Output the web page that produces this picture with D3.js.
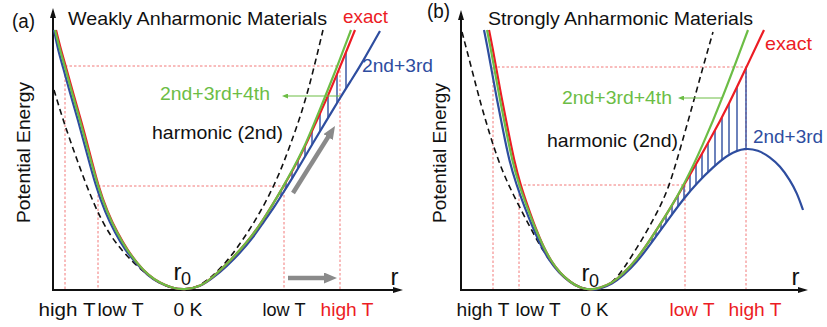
<!DOCTYPE html>
<html><head><meta charset="utf-8">
<script src="https://cdn.jsdelivr.net/npm/d3@7"></script>
<style>
html,body{margin:0;padding:0;background:#fff;}
svg{display:block;font-family:"Liberation Sans",Arial,Helvetica,sans-serif;}
</style></head><body>
<svg id="chart" width="827" height="327"></svg>
<script>
// ---------------- data ----------------
const panelTags = ["(a)", "(b)"];
const panelTitles = ["Weakly Anharmonic Materials", "Strongly Anharmonic Materials"];
const seriesNames = ["exact", "2nd+3rd", "2nd+3rd+4th", "harmonic (2nd)"];
const tickLabels = ["high T", "low T", "0 K", "low T", "high T"];
const yAxisLabel = "Potential Energy";
const xAxisLabel = "r";

// tick label centres (r units) and colour flags (1 = red)
const tickPosA = [0.135, 0.67, 1.345, 2.305, 2.935];
const tickPosB = [0.215, 0.765, 1.33, 2.305, 2.935];
const tickRedA = [0, 0, 0, 0, 1];
const tickRedB = [0, 0, 0, 1, 1];

// Panel (a): [r, E]
const exactA = [[0.03,2.60],[0.08,2.40],[0.13,2.23],[0.20,1.97],[0.28,1.70],[0.36,1.40],[0.455,1.03],[0.545,0.78],[0.645,0.57],[0.745,0.40],[0.84,0.27],[0.95,0.15],[1.07,0.07],[1.19,0.02],[1.31,0.00],[1.47,0.03],[1.60,0.13],[1.74,0.26],[1.87,0.40],[1.99,0.54],[2.10,0.70],[2.20,0.86],[2.30,1.03],[2.40,1.20],[2.52,1.43],[2.64,1.70],[2.75,1.94],[2.87,2.23],[3.02,2.60]];
const quarticA = [[0.02,2.60],[0.07,2.40],[0.12,2.23],[0.19,1.97],[0.27,1.70],[0.35,1.40],[0.45,1.03],[0.54,0.78],[0.64,0.57],[0.74,0.40],[0.84,0.27],[0.95,0.15],[1.07,0.07],[1.19,0.02],[1.31,0.00],[1.47,0.03],[1.60,0.13],[1.74,0.26],[1.87,0.40],[1.99,0.54],[2.10,0.70],[2.20,0.86],[2.30,1.03],[2.40,1.21],[2.50,1.40],[2.61,1.66],[2.72,1.93],[2.84,2.23],[2.98,2.60]];
const cubicA = [[0.01,2.60],[0.05,2.40],[0.10,2.23],[0.17,1.97],[0.25,1.70],[0.33,1.40],[0.43,1.03],[0.52,0.78],[0.62,0.57],[0.72,0.40],[0.83,0.27],[0.94,0.15],[1.06,0.07],[1.19,0.02],[1.31,0.00],[1.47,0.03],[1.60,0.12],[1.74,0.24],[1.87,0.37],[1.99,0.51],[2.10,0.67],[2.22,0.84],[2.30,0.97],[2.40,1.13],[2.50,1.30],[2.60,1.47],[2.72,1.67],[2.87,1.92],[2.99,2.11],[3.09,2.27],[3.27,2.59]];
const harmonicA = [[0.01,2.00],[0.10,1.70],[0.24,1.30],[0.40,0.87],[0.57,0.53],[0.80,0.27],[1.02,0.09],[1.17,0.02],[1.31,0.00],[1.47,0.03],[1.70,0.23],[1.90,0.50],[2.07,0.77],[2.24,1.10],[2.37,1.44],[2.50,1.81],[2.60,2.18],[2.70,2.60]];
// guides: [rLeft, rRight, E]
const highTA = [0.12, 2.87, 2.24];
const lowTA = [0.45, 2.31, 1.04];
const hatchA = [2.93,2.84,2.75,2.67,2.59,2.52,2.45,2.39,2.33,2.28];

// Panel (b): [r, E]
const exactB = [[0.28,2.60],[0.32,2.40],[0.35,2.23],[0.41,1.90],[0.47,1.60],[0.53,1.30],[0.595,1.05],[0.67,0.83],[0.745,0.62],[0.82,0.44],[0.90,0.29],[0.99,0.17],[1.09,0.08],[1.19,0.02],[1.29,0.00],[1.39,0.02],[1.51,0.07],[1.62,0.16],[1.76,0.31],[1.89,0.50],[2.06,0.76],[2.26,1.10],[2.49,1.50],[2.69,1.88],[2.85,2.22],[3.03,2.60]];
const quarticB = [[0.26,2.60],[0.30,2.40],[0.33,2.23],[0.39,1.90],[0.45,1.60],[0.51,1.30],[0.58,1.05],[0.66,0.83],[0.74,0.62],[0.82,0.44],[0.90,0.29],[0.99,0.17],[1.09,0.08],[1.19,0.02],[1.29,0.00],[1.39,0.02],[1.51,0.07],[1.62,0.16],[1.76,0.31],[1.89,0.50],[2.06,0.76],[2.24,1.07],[2.41,1.43],[2.62,1.93],[2.87,2.60]];
const cubicB = [[0.23,2.60],[0.27,2.40],[0.30,2.23],[0.36,1.90],[0.42,1.60],[0.48,1.30],[0.555,1.05],[0.635,0.83],[0.72,0.62],[0.80,0.44],[0.885,0.29],[0.98,0.17],[1.085,0.08],[1.19,0.02],[1.29,0.00],[1.39,0.01],[1.51,0.06],[1.62,0.14],[1.76,0.28],[1.89,0.45],[2.09,0.73],[2.24,0.93],[2.36,1.07],[2.52,1.23],[2.69,1.37],[2.84,1.42],[2.97,1.40],[3.09,1.33],[3.19,1.24],[3.29,1.10],[3.36,0.97],[3.42,0.80]];
const harmonicB = [[0.01,2.58],[0.11,2.20],[0.20,1.85],[0.29,1.55],[0.37,1.30],[0.47,1.06],[0.58,0.84],[0.70,0.61],[0.82,0.39],[0.94,0.22],[1.06,0.10],[1.18,0.03],[1.29,0.00],[1.41,0.02],[1.51,0.07],[1.62,0.20],[1.79,0.47],[1.94,0.73],[2.07,1.00],[2.16,1.30],[2.26,1.65],[2.36,2.01],[2.44,2.30],[2.52,2.58]];
const highTB = [0.32, 2.85, 2.23];
const lowTB = [0.58, 2.24, 1.05];
const hatchB = [2.85,2.76,2.68,2.61,2.54,2.47,2.41,2.35,2.29,2.23,2.17,2.11,2.05,2.00,1.95,1.91];

// annotation arrows: [rFrom, EFrom, rTip, ETip]
const greenArrowA = [2.87, 1.94, 2.29, 1.94];
const greenArrowB = [2.62, 1.92, 2.17, 1.92];
const grayArrowsA = [[2.40, 0.97, 2.82, 1.64], [2.35, 0.12, 2.84, 0.12]];

// ---------------- style ----------------
const C = {red:"#ec1c24", green:"#6cbd45", blue:"#2e4d9f", black:"#111", gray:"#8a8a8a", guide:"#f06a6a"};
const FS = 19;

const panels = [
  {tag:panelTags[0], title:panelTitles[0], exact:exactA, quartic:quarticA, cubic:cubicA, harmonic:harmonicA,
   guides:[highTA, lowTA], hatch:hatchA, ticks:tickPosA, tickRed:tickRedA, greenArrow:greenArrowA, grayArrows:grayArrowsA,
   rDomain:[0,3.5], xRange:[53,403], yTop:2.82,
   L:{tag:[12,28,23], title:[68,25,259], exact:[343,23,45], cubic:[362,72,71], quartic:[160,100,110], harm:[152,139,131],
      r0:[173.5,280,181,285], rAx:[390.5,285], yLab:[30,152.5,141], tickW:[57,46,29,43,53]}},
  {tag:panelTags[1], title:panelTitles[1], exact:exactB, quartic:quarticB, cubic:cubicB, harmonic:harmonicB,
   guides:[highTB, lowTB], hatch:hatchB, ticks:tickPosB, tickRed:tickRedB, greenArrow:greenArrowB, grayArrows:[],
   rDomain:[0,3.47], xRange:[461,808], yTop:2.80,
   L:{tag:[427,18,23], title:[488,25,265], exact:[765,50,47], cubic:[753,143,70], quartic:[562,104,110], harm:[547,147,131],
      r0:[581.5,281,589,287], rAx:[791.5,285], yLab:[446,153,140], tickW:[53,45,28,45,53]}}
];

const svg = d3.select("#chart");
const defs = svg.append("defs");
function marker(id, path, w, h, refX, color) {
  defs.append("marker").attr("id", id).attr("viewBox", `0 ${-h/2} ${w} ${h}`)
    .attr("refX", refX).attr("refY", 0).attr("markerWidth", w).attr("markerHeight", h)
    .attr("markerUnits", "userSpaceOnUse").attr("orient", "auto")
    .append("path").attr("d", path).attr("fill", color);
}
marker("axArrow", "M0,-3L10,0L0,3Z", 10, 6, 7, C.black);
marker("grayArrow", "M0,-5.5L13,0L0,5.5Z", 13, 11, 2, C.gray);
marker("greenArrow", "M0,-2.5L6,0L0,2.5Z", 6, 5, 1, C.green);

function rightBranch(arr) {
  let iMin = 0;
  arr.forEach((d, i) => { if (d[1] < arr[iMin][1]) iMin = i; });
  return arr.slice(iMin);
}
function interp(arr, r) {
  const b = rightBranch(arr);
  for (let i = 0; i < b.length - 1; i++) {
    if (r >= b[i][0] && r <= b[i+1][0]) {
      const t = (r - b[i][0]) / (b[i+1][0] - b[i][0]);
      return b[i][1] + t * (b[i+1][1] - b[i][1]);
    }
  }
  return null;
}

function addText(g, str, pos, opts) {
  const t = g.append("text").attr("x", pos[0]).attr("y", pos[1]).text(str)
    .attr("font-size", opts.size || FS).attr("fill", opts.color || C.black);
  if (pos[2]) t.attr("textLength", pos[2]).attr("lengthAdjust", "spacingAndGlyphs");
  return t;
}

panels.forEach(p => {
  const x = d3.scaleLinear().domain(p.rDomain).range(p.xRange);
  const y = d3.scaleLinear().domain([0, 2.82]).range([290, 8]);
  const g = svg.append("g");
  const line = d3.line().x(d => x(d[0])).y(d => y(d[1])).curve(d3.curveBasis);

  // dashed guides
  const gg = g.append("g").attr("stroke", C.guide).attr("stroke-width", 0.9)
    .attr("stroke-dasharray", "2.5,2").attr("fill", "none");
  p.guides.forEach(([rl, rr, E]) => {
    gg.append("line").attr("x1", x(rl)).attr("x2", x(rr)).attr("y1", y(E)).attr("y2", y(E));
    [rl, rr].forEach(r => gg.append("line").attr("x1", x(r)).attr("x2", x(r)).attr("y1", y(E)).attr("y2", y(0)));
  });

  // hatch between exact and 2nd+3rd
  g.append("g").attr("stroke", C.blue).attr("stroke-width", 1.4)
    .selectAll("line").data(p.hatch).join("line")
    .attr("x1", d => x(d)).attr("x2", d => x(d))
    .attr("y1", d => y(interp(p.cubic, d))).attr("y2", d => y(interp(p.exact, d)));

  // axes
  const xAxis = d3.axisBottom(x).tickValues(p.ticks).tickFormat((d, i) => tickLabels[i]).tickSize(0);
  const ax = g.append("g").attr("transform", `translate(0,${y(0)})`).call(xAxis);
  ax.select(".domain").remove();
  ax.selectAll("text").attr("y", 26).attr("dy", 0).attr("font-size", FS)
    .attr("font-family", '"Liberation Sans",Arial,sans-serif')
    .attr("fill", (d, i) => p.tickRed[i] ? C.red : C.black)
    .attr("textLength", (d, i) => p.L.tickW[i]).attr("lengthAdjust", "spacingAndGlyphs");
  g.append("line").attr("x1", x(p.rDomain[0])).attr("x2", x(p.rDomain[1]) - 3)
    .attr("y1", y(0)).attr("y2", y(0)).attr("stroke", C.black).attr("stroke-width", 2)
    .attr("marker-end", "url(#axArrow)");
  g.append("line").attr("x1", x(0)).attr("x2", x(0))
    .attr("y1", y(0) + 1).attr("y2", y(p.yTop) + 3).attr("stroke", C.black).attr("stroke-width", 2)
    .attr("marker-end", "url(#axArrow)");

  // curves
  g.append("path").attr("d", line(p.harmonic)).attr("fill", "none").attr("stroke", C.black)
    .attr("stroke-width", 1.6).attr("stroke-dasharray", "6,4");
  g.append("path").attr("d", line(p.cubic)).attr("fill", "none").attr("stroke", C.blue).attr("stroke-width", 2.2);
  g.append("path").attr("d", line(p.exact)).attr("fill", "none").attr("stroke", C.red).attr("stroke-width", 2.2);
  g.append("path").attr("d", line(p.quartic)).attr("fill", "none").attr("stroke", C.green).attr("stroke-width", 2.2);

  // green pointer arrow
  {
    const [r1, e1, r2, e2] = p.greenArrow;
    const x1 = x(r1), y1 = y(e1), x2 = x(r2), y2 = y(e2);
    const len = Math.hypot(x2 - x1, y2 - y1), s = 5 / len;
    g.append("line").attr("x1", x1).attr("y1", y1).attr("x2", x2 - (x2 - x1) * s).attr("y2", y2 - (y2 - y1) * s)
      .attr("stroke", C.green).attr("stroke-width", 1).attr("marker-end", "url(#greenArrow)");
  }
  // gray arrows
  p.grayArrows.forEach(([r1, e1, r2, e2]) => {
    const x1 = x(r1), y1 = y(e1), x2 = x(r2), y2 = y(e2);
    const len = Math.hypot(x2 - x1, y2 - y1), s = 11 / len;
    g.append("line").attr("x1", x1).attr("y1", y1).attr("x2", x2 - (x2 - x1) * s).attr("y2", y2 - (y2 - y1) * s)
      .attr("stroke", C.gray).attr("stroke-width", 4.5).attr("marker-end", "url(#grayArrow)");
  });

  // labels
  const L = p.L;
  addText(g, p.tag, L.tag, {size: 20});
  addText(g, p.title, L.title, {});
  addText(g, seriesNames[0], L.exact, {color: C.red});
  addText(g, seriesNames[1], L.cubic, {color: C.blue});
  addText(g, seriesNames[2], L.quartic, {color: C.green});
  addText(g, seriesNames[3], L.harm, {});
  addText(g, "r", [L.r0[0], L.r0[1]], {size: 24});
  addText(g, "0", [L.r0[2], L.r0[3]], {size: 18});
  addText(g, xAxisLabel, L.rAx, {size: 24});
  g.append("text").attr("transform", `translate(${L.yLab[0]},${L.yLab[1]}) rotate(-90)`)
    .attr("text-anchor", "middle").attr("font-size", FS).attr("fill", C.black)
    .attr("textLength", L.yLab[2]).attr("lengthAdjust", "spacingAndGlyphs").text(yAxisLabel);
});
</script>
</body></html>
